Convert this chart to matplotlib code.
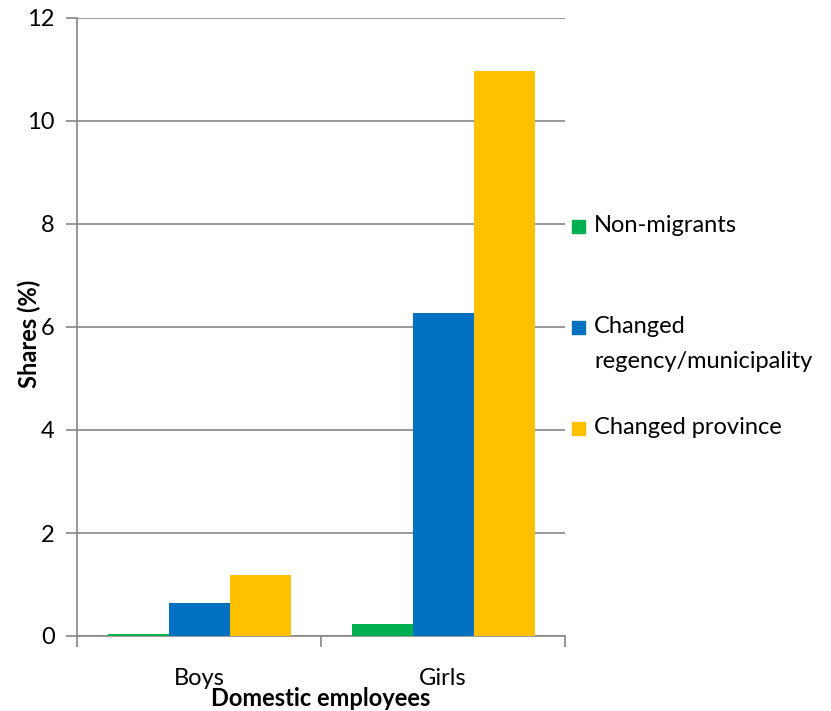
import matplotlib
matplotlib.use("Agg")
import matplotlib.pyplot as plt
import numpy as np
from matplotlib.patches import Rectangle

categories = ["Boys", "Girls"]
series_names = ["Non-migrants", "Changed\nregency/municipality", "Changed province"]
non_migrants = [0.03, 0.23]
changed_regency = [0.64, 6.27]
changed_province = [1.18, 10.97]
colors = ["#00B050", "#0070C0", "#FFC000"]
yticks = [0, 2, 4, 6, 8, 10, 12]

plt.rcParams['font.family'] = ['Lato', 'DejaVu Sans']
FS = 17

fig = plt.figure(figsize=(8.31, 7.11), dpi=100)
ax = fig.add_axes([77/831, 75/711, (565-77)/831, (636-18)/711])

values = [non_migrants, changed_regency, changed_province]
x = np.arange(len(categories))
w = 0.25
for i, (vals, c) in enumerate(zip(values, colors)):
    ax.bar(x + (i - 1) * w, vals, width=w, color=c, zorder=3, linewidth=0)

ax.set_xlim(-0.5, 1.5)
ax.set_ylim(0, 12)
ax.set_yticks(yticks)
ax.set_yticklabels([str(t) for t in yticks])
ax.yaxis.grid(True, color="#868686", linewidth=1.2)
ax.set_axisbelow(True)
ax.set_xticks([-0.5, 0.5, 1.5])
ax.set_xticklabels([])
ax.set_xticks(x, minor=True)
ax.set_xticklabels(categories, minor=True)
ax.tick_params(axis='x', which='minor', length=0, pad=23, labelsize=FS)
ax.tick_params(axis='x', which='major', length=8, width=1.2, color="#868686")
ax.tick_params(axis='y', length=8, width=1.2, color="#868686", labelsize=FS, pad=8)
for s in ["top", "right"]:
    ax.spines[s].set_visible(False)
for s in ["left", "bottom"]:
    ax.spines[s].set_color("#868686")
    ax.spines[s].set_linewidth(1.2)

fig.text(29/831, 1 - 334/711, "Shares (%)", rotation=90, ha="center", va="center",
         fontsize=FS, fontweight="bold")
fig.text(321/831, 1 - 698/711, "Domestic employees", ha="center", va="center",
         fontsize=FS, fontweight="bold")

# legend
leg_y = [226, 327, 428]
for name, c, yy in zip(series_names, colors, leg_y):
    fig.patches.append(Rectangle((572/831, 1 - (yy + 7)/711), 13/831, 13/711,
                                 transform=fig.transFigure, color=c, figure=fig))
    lines = name.split("\n")
    for k, line in enumerate(lines):
        fig.text(594/831, 1 - (yy + 34 * k)/711, line, ha="left", va="center",
                 fontsize=FS)

fig.savefig("out.png", dpi=100)
